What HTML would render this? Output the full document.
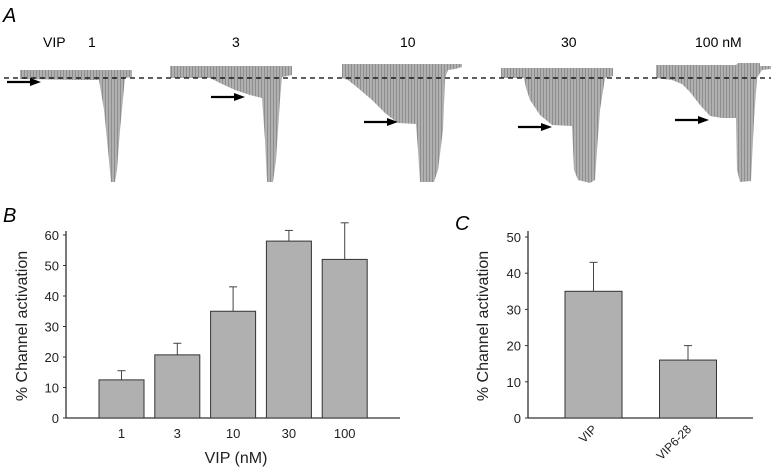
<!DOCTYPE html>
<html><head><meta charset="utf-8"><style>
html,body{margin:0;padding:0;background:#fff}
svg{display:block;font-family:"Liberation Sans",Arial,sans-serif}
</style></head><body>
<svg id="fig" width="771" height="467" viewBox="0 0 771 467">
<defs>
<pattern id="stripes" width="3" height="10" patternUnits="userSpaceOnUse">
<rect width="3" height="10" fill="#b0b0b0"/>
<rect width="1" height="10" fill="#8e8e8e"/>
</pattern>
</defs>
<g>
<text x="3" y="22" font-size="20" font-style="italic">A</text>
<text x="43" y="47" font-size="14">VIP</text>
<text x="88" y="47" font-size="14">1</text>
<text x="232" y="47" font-size="14">3</text>
<text x="400" y="47" font-size="14">10</text>
<text x="561" y="47" font-size="14">30</text>
<text x="695" y="47" font-size="14">100 nM</text>
<polygon fill="url(#stripes)" points="20,70 132,70 132,77 125,78 120,130 117,170 115,182 111,182 108,150 104,110 99,80 80,80 20,79"/>
<polygon fill="url(#stripes)" points="170,66 292,66 292,75 282,77 280,100 276,160 273,182 267,182 265,140 262,98 250,95 235,90 222,84 210,78 170,78"/>
<polygon fill="url(#stripes)" points="342,64 462,64 462,67 455,69 448,70 445,78 443,130 438,170 434,182 420,182 418,150 416,124 398,123 385,113 372,100 358,88 348,80 342,78"/>
<polygon fill="url(#stripes)" points="501,68 613,68 613,76 605,78 600,110 597,150 595,180 590,183 578,180 574,170 572,126 552,125 540,115 530,100 526,88 524,78 501,78"/>
<polygon fill="url(#stripes)" points="656,65 736,65 738,63 760,63 760,66 771,66 771,69 762,70 757,78 754,120 752,160 751,181 740,182 737,170 736,118 722,118 710,116 700,105 690,92 682,84 672,80 656,78"/>
<line x1="4" y1="78" x2="771" y2="78" stroke="#000" stroke-width="1.3" stroke-dasharray="5,4"/>
<g fill="#000" stroke="#000" stroke-width="2.2">
<line x1="7" y1="82" x2="32" y2="82"/><polygon points="30,78 41,82 30,86" stroke="none"/>
<line x1="211" y1="97" x2="236" y2="97"/><polygon points="234,93 245,97 234,101" stroke="none"/>
<line x1="364" y1="122" x2="389" y2="122"/><polygon points="387,118 398,122 387,126" stroke="none"/>
<line x1="518" y1="127" x2="543" y2="127"/><polygon points="541,123 552,127 541,131" stroke="none"/>
<line x1="675" y1="120" x2="700" y2="120"/><polygon points="698,116 709,120 698,124" stroke="none"/>
</g>
</g>
<text x="3" y="222" font-size="20" font-style="italic">B</text>
<text x="455" y="230" font-size="20" font-style="italic">C</text>
<g id="chartB"></g>
<g id="chartC"></g>
</svg>
<script>
const bCategories = ["1","3","10","30","100"];
const bValues = [12.5, 20.7, 35, 58, 52];
const bErrors = [3, 3.8, 8, 3.5, 12];
const bTicks = [0,10,20,30,40,50,60];
const cCategories = ["VIP","VIP6-28"];
const cValues = [35, 16];
const cErrors = [8, 4];
const cTicks = [0,10,20,30,40,50];

const NS = "http://www.w3.org/2000/svg";
function mk(parent, tag, attrs, text){
  const e = document.createElementNS(NS, tag);
  for (const k in attrs) e.setAttribute(k, attrs[k]);
  if (text !== undefined) e.textContent = text;
  parent.appendChild(e);
  return e;
}

function drawChart(g, opt, cats, vals, errs, ticks){
  const y = v => opt.y0 - (v - 0) * (opt.y0 - opt.yTop) / (opt.vTop);
  const xc = i => opt.firstCenter + i * opt.step;
  // axes
  let a = mk(g,"line",{x1:opt.x0,y1:opt.y0,x2:opt.x1,y2:opt.y0,stroke:"#333","stroke-width":1.3});
  
  
  a = mk(g,"line",{x1:opt.x0,y1:opt.y0,x2:opt.x0,y2:opt.yAxisTop,stroke:"#333","stroke-width":1.3});
  
  
  ticks.forEach(t=>{
    const l = mk(g,"line",{x1:opt.x0-3,y1:y(t),x2:opt.x0,y2:y(t),stroke:"#333","stroke-width":1});
    
    
    const tx = mk(g,"text",{x:opt.x0-7,y:y(t)+5,"font-size":13,"text-anchor":"end",fill:"#222"}, String(t));
    
    
  });
  cats.forEach((c,i)=>{
    const cx = xc(i);
    const top = y(vals[i]);
    const et = y(vals[i]+errs[i]);
    const el = mk(g,"line",{x1:cx,y1:top,x2:cx,y2:et,stroke:"#444","stroke-width":1});
    
    
    const ec = mk(g,"line",{x1:cx-4,y1:et,x2:cx+4,y2:et,stroke:"#444","stroke-width":1});
    
    
    const r = mk(g,"rect",{x:cx-opt.bw/2,y:top,width:opt.bw,height:opt.y0-top,fill:"#b0b0b0",stroke:"#333","stroke-width":1});
    
    
    let tl;
    if (opt.rotate){
      tl = mk(g,"text",{x:cx+4,y:opt.y0+12,"font-size":12,"text-anchor":"end",fill:"#222",transform:`rotate(-45 ${cx+4} ${opt.y0+12})`}, c);
    } else {
      tl = mk(g,"text",{x:cx,y:opt.y0+20,"font-size":13,"text-anchor":"middle",fill:"#222"}, c);
    }
    
    
  });
  const yl = mk(g,"text",{x:opt.ylx,y:opt.yly,"font-size":16,"text-anchor":"middle",fill:"#222",transform:`rotate(-90 ${opt.ylx} ${opt.yly})`}, "% Channel activation");
  
  
  if (opt.xlabel){
    const xl = mk(g,"text",{x:opt.xlx,y:opt.xly,"font-size":16,"text-anchor":"middle",fill:"#222"}, opt.xlabel);
    
    
  }
}

drawChart(document.getElementById("chartB"),
  {x0:66,x1:400,y0:418,yTop:235,vTop:60,yAxisTop:231,firstCenter:121.5,step:55.8,bw:45,
   ylx:27,yly:326,xlabel:"VIP (nM)",xlx:236,xly:463},
  bCategories,bValues,bErrors,bTicks);
drawChart(document.getElementById("chartC"),
  {x0:528,x1:753,y0:418,yTop:237,vTop:50,yAxisTop:231,firstCenter:593.5,step:94.5,bw:57,rotate:true,
   ylx:488,yly:326},
  cCategories,cValues,cErrors,cTicks);
</script>
</body></html>
